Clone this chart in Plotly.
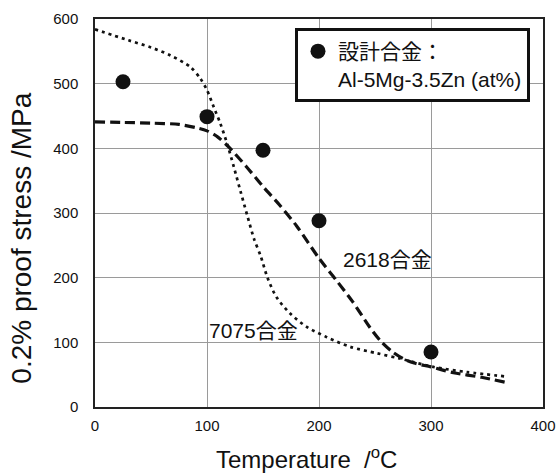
import plotly.graph_objects as go

# Designed alloy measured points
design_temp = [25, 100, 150, 200, 300]
design_stress = [503, 449, 397, 288, 85]

# 2618 alloy curve
a2618_temp = [0, 25, 50, 75, 90, 100, 110, 120, 135, 150, 165, 180, 200, 215, 230, 245, 255, 265, 275, 285, 300, 320, 345, 367]
a2618_stress = [441, 440, 439, 437, 432, 427, 417, 401, 372, 341, 312, 280, 230, 197, 163, 124, 102, 86, 75, 68, 62, 53, 46, 38]

# 7075 alloy curve
a7075_temp = [0, 30, 50, 67, 85, 94, 100, 106, 112, 118, 124, 130, 136, 142, 148, 154, 162, 174, 189, 207, 228, 252, 272, 302, 332, 368]
a7075_stress = [584, 567, 556, 544, 526, 508, 490, 464, 438, 407, 371, 333, 296, 260, 233, 200, 170, 145, 124, 108, 93, 83, 75, 62, 54, 47]

x_ticks = [0, 100, 200, 300, 400]
y_ticks = [0, 100, 200, 300, 400, 500, 600]

FONT = "Liberation Sans, Arial, Noto Sans CJK JP, sans-serif"

fig = go.Figure()
fig.add_trace(go.Scatter(
    x=a7075_temp, y=a7075_stress, mode="lines", showlegend=False,
    line=dict(color="#111111", width=2.7, dash="3px,4px", shape="spline", smoothing=0.8),
))
fig.add_trace(go.Scatter(
    x=a2618_temp, y=a2618_stress, mode="lines", showlegend=False,
    line=dict(color="#111111", width=3.2, dash="10px,5px", shape="spline", smoothing=0.8),
))
fig.add_trace(go.Scatter(
    x=design_temp, y=design_stress, mode="markers",
    name="設計合金：<br>Al-5Mg-3.5Zn (at%)",
    marker=dict(color="#111111", size=15),
))

fig.update_layout(
    width=557, height=473,
    margin=dict(l=95, r=14, t=19, b=66, autoexpand=False),
    paper_bgcolor="white", plot_bgcolor="white",
    font=dict(family=FONT, color="#111111"),
    legend=dict(
        x=0.4464, y=0.9768, xanchor="left", yanchor="top",
        bordercolor="#111111", borderwidth=3, bgcolor="white",
        font=dict(size=21, family=FONT, color="#111111"),
        valign="top",
    ),
    xaxis=dict(
        range=[0, 400], tickvals=x_ticks, ticktext=[str(v) for v in x_ticks],
        showgrid=True, gridcolor="#9a9a9a", gridwidth=1,
        showline=True, linecolor="#222222", linewidth=1.5, mirror=True,
        zeroline=False, ticks="", ticklabelstandoff=4, automargin=False,
        tickfont=dict(size=15, family=FONT, color="#111111"),
    ),
    yaxis=dict(
        range=[0, 600], tickvals=y_ticks, ticktext=[str(v) for v in y_ticks],
        showgrid=True, gridcolor="#9a9a9a", gridwidth=1,
        showline=True, linecolor="#222222", linewidth=1.5, mirror=True,
        zeroline=False, ticks="", ticklabelstandoff=12, automargin=False,
        tickfont=dict(size=15, family=FONT, color="#111111"),
    ),
    annotations=[
        dict(text="2618合金", x=220, y=228, xref="x", yref="y", xanchor="left", yanchor="middle",
             showarrow=False, font=dict(size=21, family=FONT, color="#111111")),
        dict(text="7075合金", x=100, y=119, xref="x", yref="y", xanchor="left", yanchor="middle",
             showarrow=False, font=dict(size=21, family=FONT, color="#111111")),
        dict(text="Temperature\u00a0\u00a0/<sup>o</sup>C", x=0.473, y=-0.1314, xref="paper", yref="paper",
             xanchor="center", yanchor="middle", showarrow=False,
             font=dict(size=24, family=FONT, color="#111111")),
        dict(text="0.2% proof stress /MPa", x=-0.1636, y=0.4356, xref="paper", yref="paper",
             xanchor="center", yanchor="middle", textangle=-90, showarrow=False,
             font=dict(size=28, family=FONT, color="#111111")),
    ],
)

fig.write_html(
    "out.html",
    config={"displayModeBar": False},
    post_script="document.body.style.margin='0';document.body.style.overflow='hidden';",
)
